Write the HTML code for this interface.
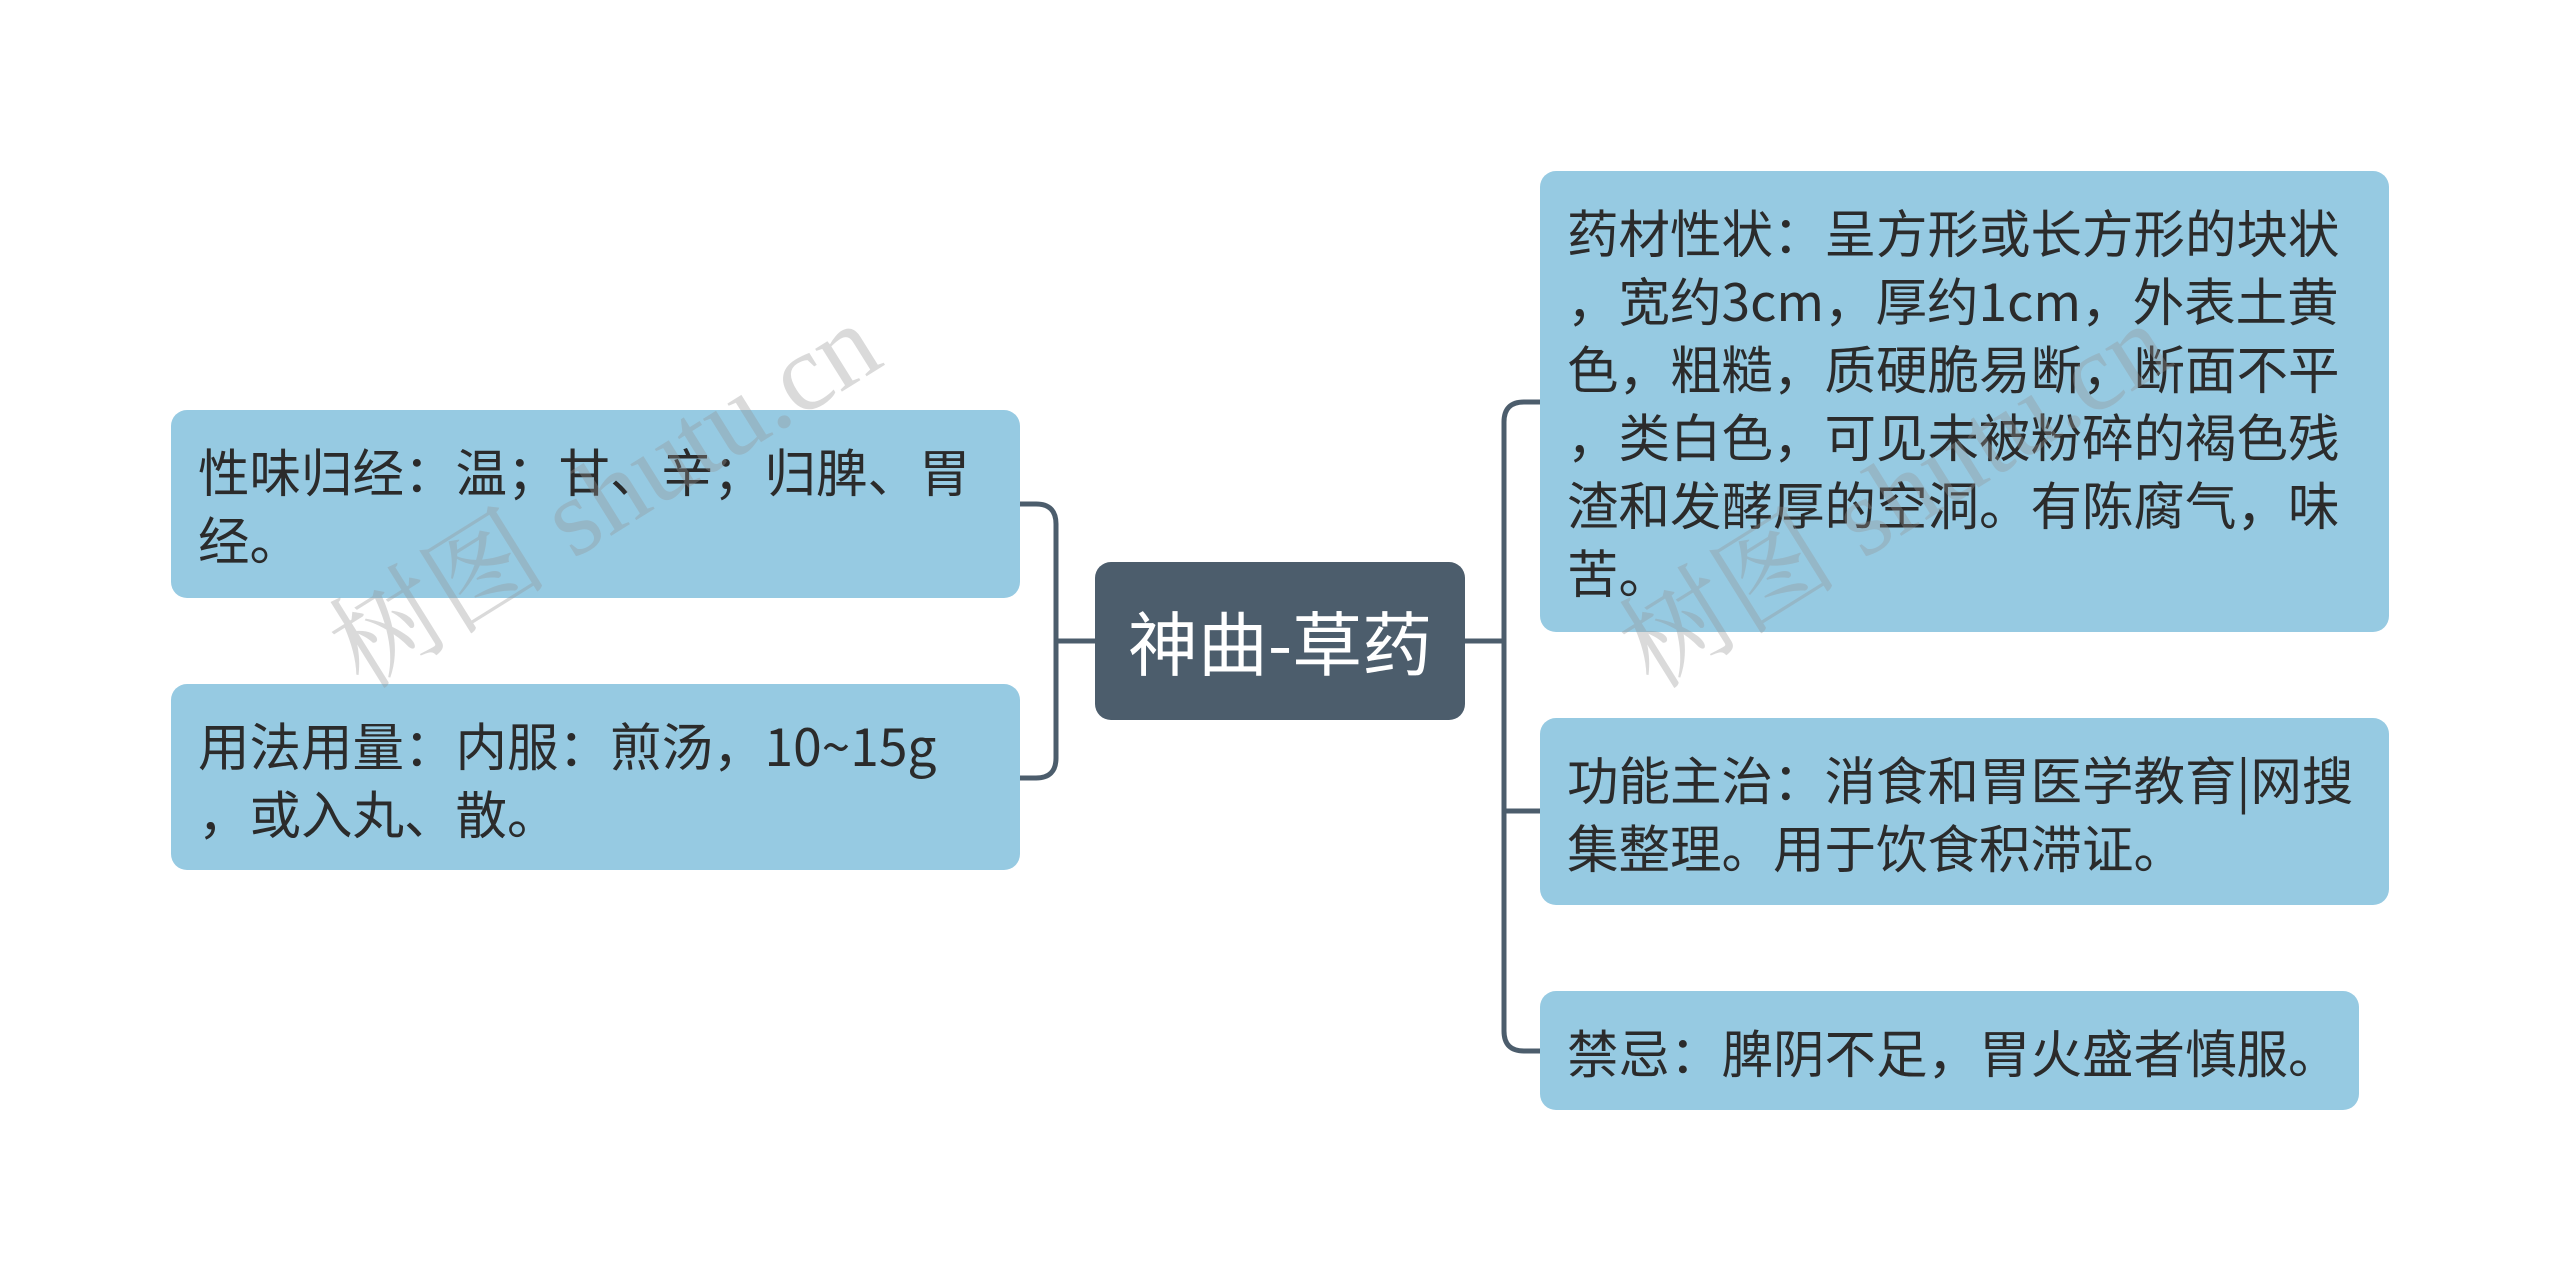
<!DOCTYPE html>
<html><head><meta charset="utf-8"><style>
html,body{margin:0;padding:0;background:#fff;}
body{width:2560px;height:1282px;position:relative;overflow:hidden;font-family:"Noto Sans CJK SC","Liberation Sans",sans-serif;}
.b{position:absolute;background:#96cae2;border-radius:16px;color:#2b2b2b;font-size:51.5px;line-height:68px;padding:26px 0 0 27px;box-sizing:border-box;white-space:nowrap;}
.b span{display:block;height:68px;line-height:68px;}
.c{position:absolute;left:1095px;top:562px;width:370px;height:158px;background:#4c5d6c;border-radius:16px;color:#fff;font-size:70px;line-height:158px;text-align:center;}
.wm{position:absolute;color:rgba(150,150,150,0.35);font-family:"Liberation Serif","Noto Serif CJK SC",serif;font-size:110px;transform:rotate(-32deg);transform-origin:left bottom;white-space:nowrap;}
</style></head><body>
<svg width="2560" height="1282" style="position:absolute;left:0;top:0">
<g fill="none" stroke="#4c5d6c" stroke-width="5">
<path d="M1020 504 H1036 Q1056 504 1056 524 V758 Q1056 778 1036 778 H1020"/>
<path d="M1056 641 H1095"/>
<path d="M1465 641 H1504"/>
<path d="M1540 402 H1524 Q1504 402 1504 422 V1031 Q1504 1051 1524 1051 H1540"/>
<path d="M1504 811 H1540"/>
</g></svg>
<div class="b" style="left:171px;top:410px;width:849px;height:188px;"><span>性味归经：温；甘、辛；归脾、胃</span><span>经。</span></div>
<div class="b" style="left:171px;top:684px;width:849px;height:186px;"><span>用法用量：内服：煎汤，10~15g</span><span>，或入丸、散。</span></div>
<div class="c">神曲-草药</div>
<div class="b" style="left:1540px;top:171px;width:849px;height:461px;"><span>药材性状：呈方形或长方形的块状</span><span>，宽约3cm，厚约1cm，外表土黄</span><span>色，粗糙，质硬脆易断，断面不平</span><span>，类白色，可见未被粉碎的褐色残</span><span>渣和发酵厚的空洞。有陈腐气，味</span><span>苦。</span></div>
<div class="b" style="left:1540px;top:718px;width:849px;height:187px;"><span>功能主治：消食和胃医学教育|网搜</span><span>集整理。用于饮食积滞证。</span></div>
<div class="b" style="left:1540px;top:991px;width:819px;height:119px;"><span>禁忌：脾阴不足，胃火盛者慎服。</span></div>
<div class="wm" style="left:380px;top:560px;">树图 shutu.cn</div>
<div class="wm" style="left:1670px;top:560px;">树图 shutu.cn</div>
</body></html>
